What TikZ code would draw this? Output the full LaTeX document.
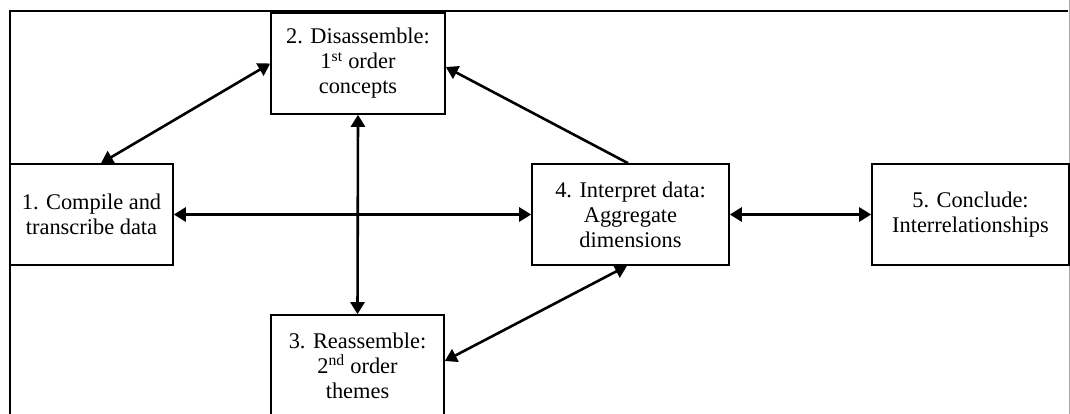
\documentclass[tikz,border=0pt]{standalone}
\usepackage{fontspec}
\setmainfont{Liberation Serif}
\usetikzlibrary{arrows.meta}
\begin{document}
\begin{tikzpicture}[x=1pt,y=1pt,
  stagebox/.style={draw=black, line width=1.6pt, fill=white, rectangle,
    minimum height=101pt, inner sep=0pt, align=center,
    font=\fontsize{22.4}{25}\selectfont},
  link/.style={line width=2.6pt, black},
  both/.style={link, {Triangle[length=12pt,width=14pt]}-{Triangle[length=12pt,width=14pt]}},
  single/.style={link, -{Triangle[length=12pt,width=14pt]}}]
\useasboundingbox (0,0) rectangle (1070,-414);
% outer frame
\draw[line width=1.6pt] (10,-420) -- (10,-11) -- (1068,-11);
\draw[gray!70, line width=0.8pt] (1069,0) -- (1069,-414);
% stages
\node[stagebox, minimum width=163pt] (n1) at (91.5,-214.5) {1. Compile and\\transcribe data};
\node[stagebox, minimum width=174pt] (n2) at (358,-63.5) {2. Disassemble:\\1\textsuperscript{st} order\\concepts};
\node[stagebox, minimum width=173pt] (n3) at (357.5,-365.5) {3. Reassemble:\\2\textsuperscript{nd} order\\themes};
\node[stagebox, minimum width=197pt] (n4) at (630.5,-214.5) {4. Interpret data:\\Aggregate\\dimensions};
\node[stagebox, minimum width=197pt] (n5) at (970.5,-214.5) {5. Conclude:\\Interrelationships};
% connectors
\draw[both] ([xshift=9.5pt]n1.north) -- (n2.west);
\draw[both] (n2.south) -- (n3.north);
\draw[both] (n1.east) -- (n4.west);
\draw[single] ([xshift=-2.5pt]n4.north) -- ([yshift=-3.5pt]n2.east);
\draw[both] ([yshift=4.5pt]n3.east) -- ([xshift=-3.5pt]n4.south);
\draw[both] (n4.east) -- (n5.west);
\end{tikzpicture}
\end{document}
